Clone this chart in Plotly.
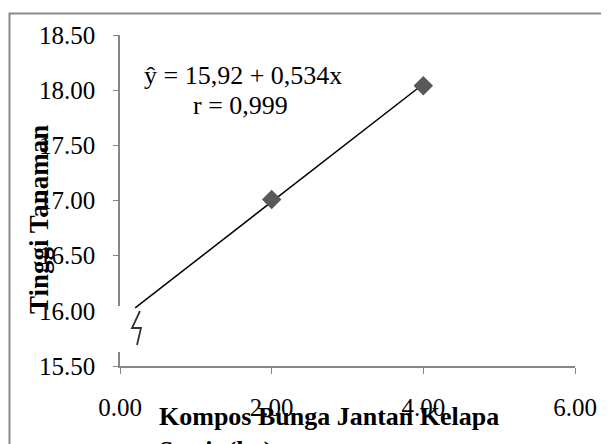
import plotly.graph_objects as go

# Data
x_vals = [2.0, 4.0]
y_vals = [17.01, 18.04]
intercept = 15.92
slope = 0.534
trend_x = [0.2, 4.0]
trend_y = [intercept + slope * v for v in trend_x]
x_ticks = [0, 2, 4, 6]
y_ticks = [15.5, 16.0, 16.5, 17.0, 17.5, 18.0, 18.5]

FONT = "Liberation Serif"
OFF = 8  # page body margin
W, H = 609 - OFF, 444 - OFF
# plot area in screen pixels: x 120..575, y 35..366
SX0, SX1, SY0, SY1 = 120, 575, 35, 366
L, R, T, B = SX0 - OFF, W - (SX1 - OFF), SY0 - OFF, H - (SY1 - OFF)
PW, PH = W - L - R, H - T - B

def px(sx):
    return (sx - SX0) / PW

def py(sy):
    return (SY1 - sy) / PH

fig = go.Figure()
fig.add_trace(go.Scatter(x=trend_x, y=trend_y, mode="lines",
                         line=dict(color="black", width=1.5), showlegend=False))
fig.add_trace(go.Scatter(x=x_vals, y=y_vals, mode="markers",
                         marker=dict(symbol="diamond", size=15, color="#595959"),
                         showlegend=False))

shapes = [
    # outer chart border
    dict(type="rect", xref="paper", yref="paper", x0=px(9.5), x1=px(640), y0=py(480), y1=py(13.5),
         line=dict(color="#898989", width=2), fillcolor="rgba(0,0,0,0)", layer="below"),
    # white gap in the y axis for the break
    dict(type="rect", xref="paper", yref="paper", x0=px(108), x1=px(128), y0=py(352), y1=py(306),
         line=dict(width=0), fillcolor="white", layer="above"),
    # axis break zigzag
    dict(type="path", xref="paper", yref="paper",
         path=f"M {px(140)} {py(311)} L {px(132)} {py(328)} L {px(141)} {py(328)} L {px(137)} {py(345)}",
         line=dict(color="#333333", width=1.8)),
]

annotations = [
    dict(text="ŷ = 15,92 + 0,534x", xref="paper", yref="paper", x=px(243), y=py(75),
         showarrow=False, font=dict(family=FONT, size=26, color="black"),
         xanchor="center", yanchor="middle"),
    dict(text="r = 0,999", xref="paper", yref="paper", x=px(240), y=py(105),
         showarrow=False, font=dict(family=FONT, size=26, color="black"),
         xanchor="center", yanchor="middle"),
    dict(text="<b>Tinggi Tanaman</b>", xref="paper", yref="paper", x=px(39), y=py(220),
         showarrow=False, textangle=-90, font=dict(family=FONT, size=27, color="black"),
         xanchor="center", yanchor="middle"),
    dict(text="<b>Kompos Bunga Jantan Kelapa<br>Sawit (kg)</b>", xref="paper", yref="paper",
         x=px(157), y=py(400), showarrow=False, align="left",
         font=dict(family=FONT, size=26, color="black"),
         xanchor="left", yanchor="top"),
]

fig.update_layout(
    width=W, height=H,
    margin=dict(l=L, r=R, t=T, b=B, pad=0),
    paper_bgcolor="white", plot_bgcolor="white",
    font=dict(family=FONT, size=25, color="black"),
    shapes=shapes, annotations=annotations,
    xaxis=dict(range=[0, 6], tickvals=x_ticks, tickformat=".2f", showgrid=False, zeroline=False,
               showline=True, linecolor="#868686", linewidth=1.5,
               ticks="outside", ticklen=6, tickcolor="#868686", ticklabelstandoff=12,
               tickfont=dict(family=FONT, size=25, color="black")),
    yaxis=dict(range=[15.5, 18.5], tickvals=y_ticks, tickformat=".2f", showgrid=False, zeroline=False,
               showline=True, linecolor="#868686", linewidth=1.5,
               ticks="outside", ticklen=5, tickcolor="#868686", ticklabelstandoff=13,
               tickfont=dict(family=FONT, size=25, color="black")),
)

fig.write_html("out.html")
